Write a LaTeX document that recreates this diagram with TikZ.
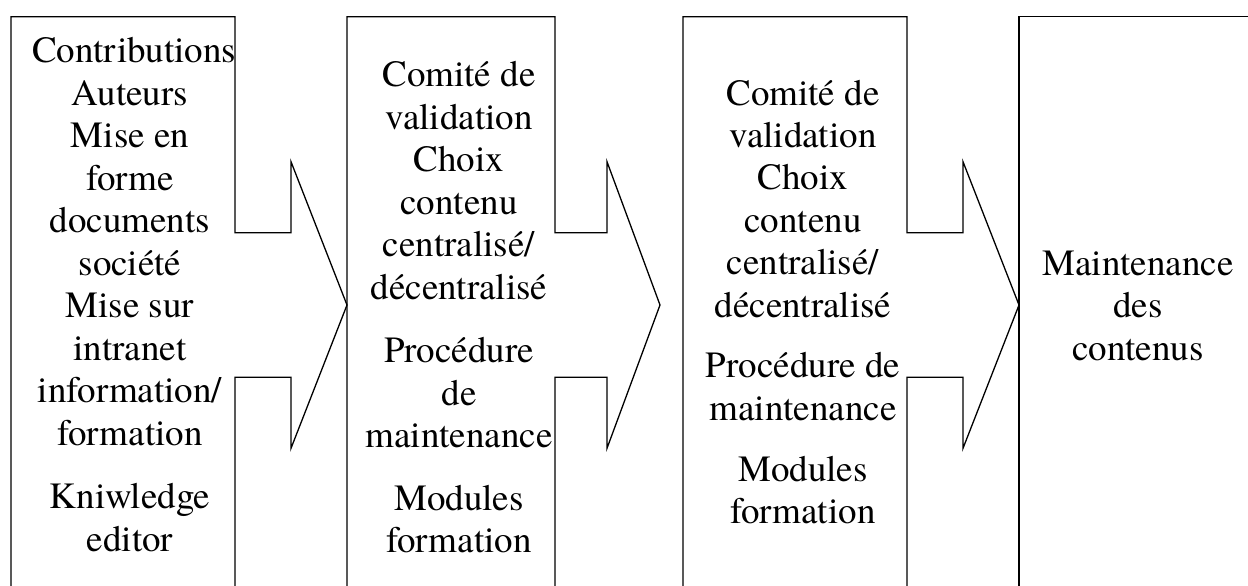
\documentclass[tikz,border=0pt]{standalone}
\usepackage{fontspec}
\setmainfont{texgyretermes}[Extension=.otf, UprightFont=*-regular, BoldFont=*-bold]
% a centred block of lines whose reference point is the baseline of its first line
\newcommand\stacklines[2]{\parbox[t]{#1}{\centering #2}}
\begin{document}
\begin{tikzpicture}[x=1pt,y=-1pt,
  outline/.style={draw=black, line width=1.3pt, line join=miter},
  boxtext/.style={anchor=base, inner sep=0pt, font=\rmfamily\fontsize{37}{42.5}\selectfont}]
\useasboundingbox (0,0) rectangle (1248,586);

% column 1 and its arrow into column 2
\draw[outline] (11,586) -- (11,16.7) -- (235,16.7) -- (235,232.7)
  -- (291,232.7) -- (291,161.7) -- (347,305) -- (291,448.3) -- (291,377.3)
  -- (235,377.3) -- (235,586);

% column 2 and its arrow towards column 3
\draw[outline] (347,586) -- (347,16.7) -- (555,16.7) -- (555,232.7)
  -- (607,232.7) -- (607,161.7) -- (660,305) -- (607,448.3) -- (607,377.3)
  -- (555,377.3) -- (555,586);

% column 3 and its arrow into column 4
\draw[outline] (683,586) -- (683,16.7) -- (907,16.7) -- (907,232.7)
  -- (963,232.7) -- (963,161.7) -- (1019,305) -- (963,448.3) -- (963,377.3)
  -- (907,377.3) -- (907,586);

% column 4, open to the right
\draw[outline] (1248,16.7) -- (1019,16.7) -- (1019,586);

% texts
\node[boxtext] (t1) at (130,63) {\stacklines{196pt}{Contributions\\Auteurs\\Mise en\\forme\\documents\\soci\'et\'e\\Mise sur\\intranet\\information/\\formation\\[21pt]Kniwledge\\editor}};

\node[boxtext] (t2) at (459,86.7) {\stacklines{190pt}{Comit\'e de\\validation\\Choix\\contenu\\centralis\'e/\\d\'ecentralis\'e\\[21pt]Proc\'edure\\de\\maintenance\\[20pt]Modules\\formation}};

\node[boxtext] (t3) at (803,105) {\stacklines{200pt}{Comit\'e de\\validation\\Choix\\contenu\\centralis\'e/\\d\'ecentralis\'e\\[18pt]Proc\'edure de\\maintenance\\[18.5pt]Modules\\formation}};

\node[boxtext] (t4) at (1138,275) {\stacklines{200pt}{Maintenance\\des\\contenus}};
\end{tikzpicture}
\end{document}
